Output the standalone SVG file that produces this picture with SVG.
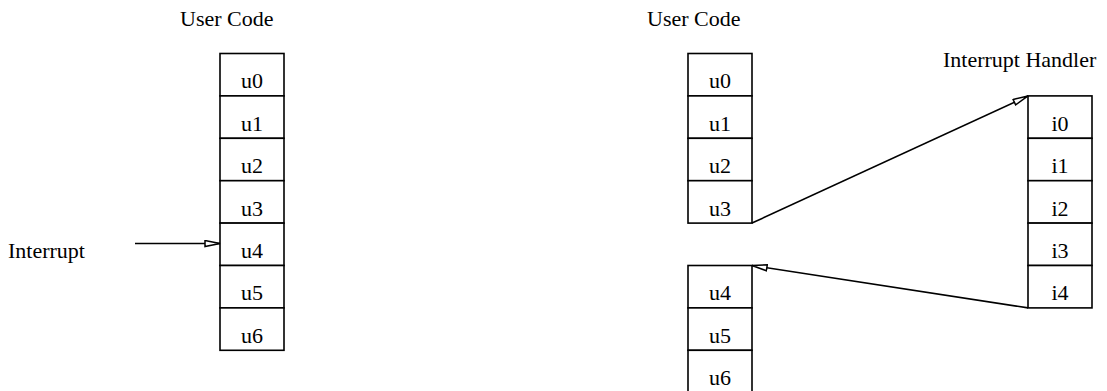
<svg xmlns="http://www.w3.org/2000/svg" width="1107" height="391" viewBox="0 0 1107 391">
  <style>
    .cell { fill: #ffffff; stroke: #000000; stroke-width: 1.6; }
    .lbl { font-family: "Liberation Serif", "Times New Roman", serif; font-size: 22px; fill: #000000; }
    .mid { text-anchor: middle; }
    .edge { fill: none; stroke: #000000; stroke-width: 1.6; }
  </style>
  <defs>
    <marker id="open-arrow" markerUnits="userSpaceOnUse" markerWidth="18" markerHeight="10" refX="16" refY="4" orient="auto">
      <path d="M1,1 L16,4 L1,7 Z" fill="#ffffff" stroke="#000000" stroke-width="1.5" stroke-linejoin="miter"/>
    </marker>
  </defs>
  <rect width="1107" height="391" fill="#ffffff"/>

  <!-- titles -->
  <text class="lbl" x="180" y="26">User Code</text>
  <text class="lbl" x="647" y="26">User Code</text>
  <text class="lbl" x="943" y="67">Interrupt Handler</text>
  <text class="lbl" x="8" y="258">Interrupt</text>

  <!-- left program: u0..u6 -->
  <g id="left-stack">
    <g id="l-u0"><rect class="cell" x="220" y="53.5" width="64" height="42.4"/><text class="lbl mid" x="252" y="88.4">u0</text></g>
    <g id="l-u1"><rect class="cell" x="220" y="95.9" width="64" height="42.4"/><text class="lbl mid" x="252" y="130.8">u1</text></g>
    <g id="l-u2"><rect class="cell" x="220" y="138.3" width="64" height="42.4"/><text class="lbl mid" x="252" y="173.2">u2</text></g>
    <g id="l-u3"><rect class="cell" x="220" y="180.7" width="64" height="42.4"/><text class="lbl mid" x="252" y="215.6">u3</text></g>
    <g id="l-u4"><rect class="cell" x="220" y="223.1" width="64" height="42.4"/><text class="lbl mid" x="252" y="258">u4</text></g>
    <g id="l-u5"><rect class="cell" x="220" y="265.5" width="64" height="42.4"/><text class="lbl mid" x="252" y="300.4">u5</text></g>
    <g id="l-u6"><rect class="cell" x="220" y="307.9" width="64" height="42.4"/><text class="lbl mid" x="252" y="342.8">u6</text></g>
  </g>

  <!-- right program, upper part: u0..u3 -->
  <g id="right-upper">
    <g id="r-u0"><rect class="cell" x="688" y="53.5" width="64" height="42.4"/><text class="lbl mid" x="720" y="88.4">u0</text></g>
    <g id="r-u1"><rect class="cell" x="688" y="95.9" width="64" height="42.4"/><text class="lbl mid" x="720" y="130.8">u1</text></g>
    <g id="r-u2"><rect class="cell" x="688" y="138.3" width="64" height="42.4"/><text class="lbl mid" x="720" y="173.2">u2</text></g>
    <g id="r-u3"><rect class="cell" x="688" y="180.7" width="64" height="42.4"/><text class="lbl mid" x="720" y="215.6">u3</text></g>
  </g>

  <!-- right program, lower part: u4..u6 -->
  <g id="right-lower">
    <g id="r-u4"><rect class="cell" x="688" y="265.5" width="64" height="42.4"/><text class="lbl mid" x="720" y="300.4">u4</text></g>
    <g id="r-u5"><rect class="cell" x="688" y="307.9" width="64" height="42.4"/><text class="lbl mid" x="720" y="342.8">u5</text></g>
    <g id="r-u6"><rect class="cell" x="688" y="350.3" width="64" height="42.4"/><text class="lbl mid" x="720" y="385.2">u6</text></g>
  </g>

  <!-- handler: i0..i4 -->
  <g id="handler">
    <g id="h-i0"><rect class="cell" x="1028" y="95.9" width="64" height="42.4"/><text class="lbl mid" x="1060" y="130.8">i0</text></g>
    <g id="h-i1"><rect class="cell" x="1028" y="138.3" width="64" height="42.4"/><text class="lbl mid" x="1060" y="173.2">i1</text></g>
    <g id="h-i2"><rect class="cell" x="1028" y="180.7" width="64" height="42.4"/><text class="lbl mid" x="1060" y="215.6">i2</text></g>
    <g id="h-i3"><rect class="cell" x="1028" y="223.1" width="64" height="42.4"/><text class="lbl mid" x="1060" y="258">i3</text></g>
    <g id="h-i4"><rect class="cell" x="1028" y="265.5" width="64" height="42.4"/><text class="lbl mid" x="1060" y="300.4">i4</text></g>
  </g>

  <!-- connectors -->
  <g id="connectors">
    <line class="edge" x1="135" y1="243.5" x2="220" y2="243.5" marker-end="url(#open-arrow)"/>
    <line class="edge" x1="752" y1="223.1" x2="1028" y2="95.9" marker-end="url(#open-arrow)"/>
    <line class="edge" x1="1028" y1="307.9" x2="752" y2="265.5" marker-end="url(#open-arrow)"/>
  </g>
</svg>
